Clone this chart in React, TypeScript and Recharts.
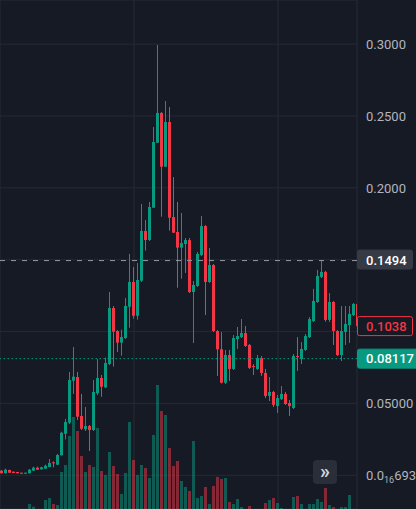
import React from "react";
import { ComposedChart, Bar, XAxis, YAxis, CartesianGrid, ReferenceLine, Cell } from "recharts";

// ---- data ----
const OPEN = [
  0.0032, 0.0014, 0.0037, 0.0025, 0.0023, 0.0018, 0.0011, 0.0014, 0.0032, 0.0053,
  0.0042, 0.0046, 0.0058, 0.0090, 0.0074, 0.0139, 0.0289, 0.0366, 0.0658, 0.0684,
  0.0413, 0.0320, 0.0343, 0.0315, 0.0571, 0.0677, 0.0612, 0.0774, 0.1164, 0.1004,
  0.0923, 0.0955, 0.1173, 0.1345, 0.1110, 0.1354, 0.1700, 0.1637, 0.1862, 0.2314,
  0.2521, 0.2147, 0.2458, 0.1797, 0.1693, 0.1584, 0.1609, 0.1637, 0.1275, 0.1317,
  0.1533, 0.1734, 0.1345, 0.1463, 0.1004, 0.0877, 0.0644, 0.0837, 0.0740, 0.0948,
  0.0962, 0.0990, 0.0907, 0.0760, 0.0740, 0.0816, 0.0712, 0.0552, 0.0580, 0.0482,
  0.0531, 0.0566, 0.0503, 0.0468, 0.0830, 0.0809, 0.0872, 0.0962, 0.1073, 0.1206,
  0.1380, 0.1415, 0.1081, 0.1206, 0.1004, 0.0837, 0.0997, 0.1046, 0.1115, 0.1192,
];
const HIGH = [
  0.0037, 0.0046, 0.0039, 0.0026, 0.0024, 0.0019, 0.0019, 0.0044, 0.0060, 0.0060,
  0.0059, 0.0074, 0.0113, 0.0097, 0.0148, 0.0303, 0.0392, 0.0719, 0.0893, 0.0719,
  0.0566, 0.0475, 0.0350, 0.0663, 0.0809, 0.0698, 0.0818, 0.1275, 0.1178, 0.1011,
  0.1013, 0.1234, 0.1540, 0.1449, 0.1477, 0.1888, 0.1776, 0.1902, 0.2423, 0.2994,
  0.2528, 0.2604, 0.2562, 0.2075, 0.1902, 0.1825, 0.1651, 0.1651, 0.1352, 0.1554,
  0.1804, 0.1741, 0.1582, 0.1470, 0.1011, 0.0997, 0.0872, 0.0872, 0.0976, 0.1032,
  0.1087, 0.1039, 0.0914, 0.0774, 0.0837, 0.0830, 0.0740, 0.0684, 0.0587, 0.0559,
  0.0621, 0.0580, 0.0524, 0.0844, 0.0962, 0.0927, 0.0983, 0.1101, 0.1297, 0.1429,
  0.1494, 0.1422, 0.1268, 0.1213, 0.1011, 0.1178, 0.1178, 0.1178, 0.1199, 0.1199,
];
const LOW = [
  0.0013, 0.0013, 0.0016, 0.0015, 0.0013, 0.0010, 0.0010, 0.0013, 0.0030, 0.0037,
  0.0039, 0.0044, 0.0056, 0.0056, 0.0072, 0.0138, 0.0250, 0.0357, 0.0566, 0.0385,
  0.0315, 0.0308, 0.0169, 0.0308, 0.0559, 0.0547, 0.0607, 0.0767, 0.0756, 0.0858,
  0.0832, 0.0948, 0.1027, 0.1090, 0.1083, 0.1345, 0.1563, 0.1630, 0.1860, 0.2312,
  0.1799, 0.2145, 0.1702, 0.1686, 0.1305, 0.1368, 0.1408, 0.1268, 0.0920, 0.1310,
  0.1526, 0.1115, 0.1338, 0.0997, 0.0691, 0.0639, 0.0635, 0.0656, 0.0733, 0.0879,
  0.0955, 0.0893, 0.0740, 0.0698, 0.0733, 0.0691, 0.0538, 0.0517, 0.0475, 0.0433,
  0.0524, 0.0489, 0.0413, 0.0461, 0.0726, 0.0774, 0.0865, 0.0955, 0.1067, 0.1199,
  0.1373, 0.1069, 0.1067, 0.0907, 0.0830, 0.0795, 0.0907, 0.0921, 0.1108, 0.1032,
];
const CLOSE = [
  0.0014, 0.0039, 0.0018, 0.0016, 0.0014, 0.0011, 0.0018, 0.0039, 0.0053, 0.0039,
  0.0056, 0.0067, 0.0086, 0.0083, 0.0141, 0.0296, 0.0371, 0.0663, 0.0686, 0.0408,
  0.0324, 0.0343, 0.0315, 0.0580, 0.0677, 0.0616, 0.0781, 0.1164, 0.0999, 0.0923,
  0.0962, 0.1178, 0.1345, 0.1110, 0.1359, 0.1700, 0.1637, 0.1867, 0.2319, 0.2521,
  0.2147, 0.2458, 0.1792, 0.1688, 0.1584, 0.1616, 0.1637, 0.1275, 0.1324, 0.1540,
  0.1734, 0.1345, 0.1463, 0.1004, 0.0877, 0.0644, 0.0837, 0.0740, 0.0955, 0.0969,
  0.0990, 0.0900, 0.0747, 0.0754, 0.0816, 0.0712, 0.0552, 0.0580, 0.0490, 0.0538,
  0.0566, 0.0496, 0.0482, 0.0830, 0.0823, 0.0879, 0.0969, 0.1087, 0.1213, 0.1387,
  0.1415, 0.1081, 0.1206, 0.1004, 0.0837, 0.1004, 0.1053, 0.1123, 0.1192, 0.1038,
];
// volume, in millions
const VOLUME = [
  0, 0, 0, 0, 0, 0, 0, 0.5, 0.23, 0,
  0, 0.9, 1.1, 0.5, 0.4, 3.7, 4.4, 7.3, 9.2, 7.8,
  5.3, 3.7, 4.4, 4.2, 8.1, 3.8, 3.4, 5.7, 4.3, 3.5,
  1.5, 3.6, 8.7, 4.9, 3.4, 4.4, 4.1, 3.1, 7.4, 12.4,
  9.8, 9.4, 6.1, 4.3, 4.8, 2.8, 2.2, 1.8, 6.8, 1.1,
  1.3, 2.2, 0.5, 2.3, 3.2, 3.0, 3.1, 0.7, 0.5, 1.0,
  0.2, 0, 0.3, 0, 0, 0, 0.6, 0.9, 1.1, 0.6,
  0.1, 0, 0, 1.2, 1.3, 0.5, 0, 0.5, 0.5, 1.0,
  0.7, 2.1, 0.4, 0.2, 0, 0.2, 0.2, 1.4, 0, 0,
];
const PRICE_TICKS = [0, 0.05, 0.1, 0.15, 0.2, 0.25, 0.3];
const HIDDEN_TICKS = [0.1, 0.15];
const TIME_GRID = [33, 69];
const HIGH_MARK = 0.1494;
const LAST_PRICE = 0.1038;
const LOW_MARK = 0.08117;
const ZERO_LABEL = { lead: "0.0", sub: "16", tail: "693" };

// ---- styles ----
const UP = "#089981";
const DOWN = "#f23645";
const BG = "#161a25";
const GRID = "#262a35";
const TEXT = "#b2b5be";
const FONT = "Roboto, 'Noto Sans', sans-serif";

const data = OPEN.map((o, i) => ({
  i,
  open: o,
  high: HIGH[i],
  low: LOW[i],
  close: CLOSE[i],
  vol: VOLUME[i],
  up: CLOSE[i] >= o,
}));

const Candle = (props: any) => {
  const { x, y, width, height, payload } = props;
  if (!payload || height == null) return null;
  const { open, close, high, low, up } = payload;
  const color = up ? UP : DOWN;
  const range = high - low;
  const py = (v: number) => y + ((high - v) / range) * height;
  const top = py(Math.max(open, close));
  const bot = py(Math.min(open, close));
  const bx = Math.round(x);
  const cx = bx + Math.floor(width / 2) + 0.5;
  return (
    <g>
      <line x1={cx} x2={cx} y1={y} y2={y + height} stroke={color} strokeWidth={1} />
      <rect x={bx} y={top} width={width} height={Math.max(1, bot - top)} fill={color} />
    </g>
  );
};

const PriceTick = (props: any) => {
  const { x, y, payload } = props;
  const v = payload.value;
  if (HIDDEN_TICKS.includes(v)) return null;
  const common = {
    x: x + 1,
    y,
    dy: "0.36em",
    fill: TEXT,
    fontSize: 13,
    fontFamily: FONT,
    textAnchor: "start" as const,
  };
  if (v === 0) {
    return (
      <text {...common}>
        {ZERO_LABEL.lead}
        <tspan fontSize={9} dy={3}>{ZERO_LABEL.sub}</tspan>
        <tspan dy={-3}>{ZERO_LABEL.tail}</tspan>
      </text>
    );
  }
  return <text {...common}>{v.toFixed(v < 0.1 ? 5 : 4)}</text>;
};

const makeBox = (text: string, fill: string, stroke: string, color: string, w: number, dyTop: number) =>
  (p: any) => {
    const vb = p.viewBox || {};
    const left = vb.x + vb.width;
    const cy = vb.y;
    return (
      <g>
        <rect x={left + 0.5} y={cy - dyTop + 0.5} width={w - 1} height={19} rx={2} fill={fill} stroke={stroke} />
        <text
          x={left + 9}
          y={cy}
          dy="0.36em"
          fill={color}
          fontSize={13}
          fontWeight={500}
          fontFamily={FONT}
          textAnchor="start"
        >
          {text}
        </text>
      </g>
    );
  };

export default function App() {
  return (
    <div style={{ position: "absolute", left: 0, top: 0, width: 416, height: 509, background: BG, overflow: "hidden" }}>
      <ComposedChart
        width={416}
        height={509}
        data={data}
        margin={{ top: 0, right: 0, bottom: 0, left: 0 }}
        style={{ background: BG }}
      >
        <XAxis xAxisId="p" dataKey="i" type="number" domain={[-0.5, 88.75]} ticks={TIME_GRID} hide allowDataOverflow />
        <XAxis xAxisId="v" dataKey="i" type="number" domain={[-0.5, 88.75]} hide allowDataOverflow />
        <YAxis
          yAxisId="p"
          orientation="right"
          type="number"
          domain={[-0.023447, 0.33069]}
          ticks={PRICE_TICKS}
          interval={0}
          width={59}
          axisLine={false}
          tickLine={false}
          tick={<PriceTick />}
          allowDataOverflow
        />
        <YAxis yAxisId="vol" type="number" domain={[0, 50.9]} hide allowDataOverflow />
        <CartesianGrid xAxisId="p" yAxisId="p" stroke={GRID} strokeWidth={1} />
        <Bar xAxisId="v" yAxisId="vol" dataKey="vol" barSize={3} isAnimationActive={false}>
          {data.map((d) => (
            <Cell key={d.i} fill={d.up ? UP : DOWN} fillOpacity={0.5} />
          ))}
        </Bar>
        <Bar
          xAxisId="p"
          yAxisId="p"
          dataKey={(d: any) => [d.low, d.high]}
          barSize={3}
          shape={<Candle />}
          isAnimationActive={false}
        />
        <ReferenceLine
          xAxisId="p"
          yAxisId="p"
          y={HIGH_MARK}
          stroke="#9598a1"
          strokeDasharray="5 6"
          label={makeBox(HIGH_MARK.toFixed(4), "#363a45", "#363a45", "#ffffff", 56, 11)}
        />
        <ReferenceLine
          xAxisId="p"
          yAxisId="p"
          y={LOW_MARK}
          stroke={UP}
          strokeDasharray="1.5 2.5"
          label={makeBox(LOW_MARK.toFixed(5), UP, UP, "#ffffff", 62, 10)}
        />
        <ReferenceLine
          xAxisId="p"
          yAxisId="p"
          y={LAST_PRICE}
          stroke="none"
          label={makeBox(LAST_PRICE.toFixed(4), BG, DOWN, DOWN, 56, 10)}
        />
      </ComposedChart>
      <div
        style={{
          position: "absolute",
          left: 313,
          top: 460,
          width: 24,
          height: 24,
          borderRadius: 4,
          background: "#2a2e39",
          color: "#d1d4dc",
          fontFamily: FONT,
          fontSize: 20,
          fontWeight: 700,
          lineHeight: "22px",
          textAlign: "center",
        }}
      >
        »
      </div>
    </div>
  );
}
